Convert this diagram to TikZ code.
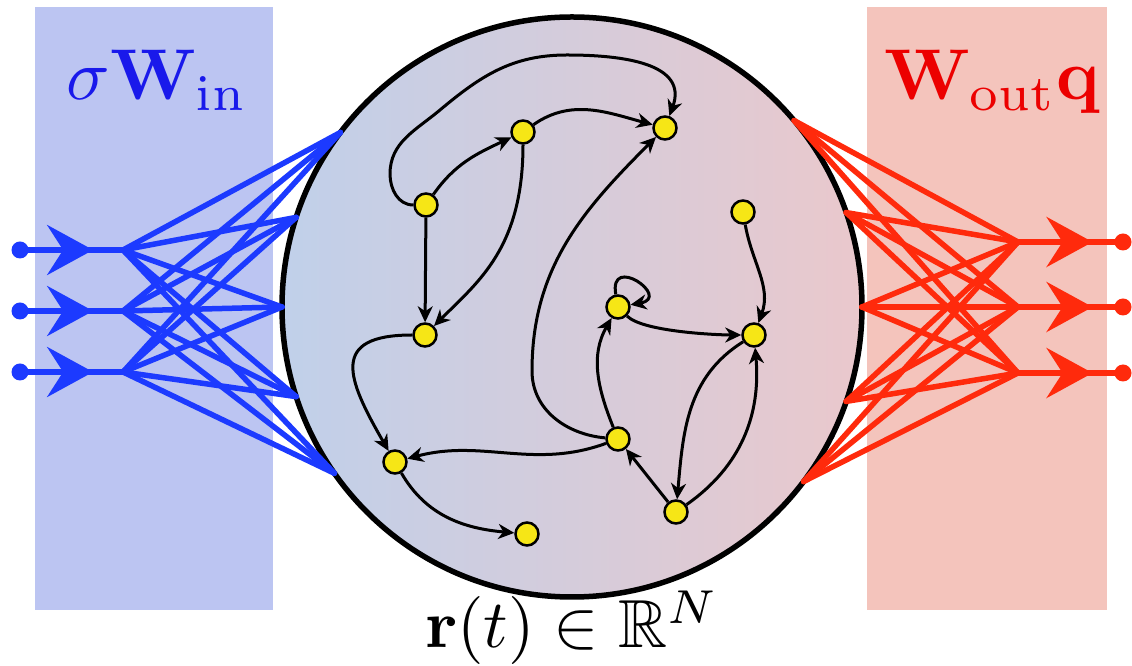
\documentclass[tikz,border=0pt]{standalone}
\usepackage{amssymb}
\usetikzlibrary{arrows.meta,decorations.markings,calc}
\definecolor{rectblue}{RGB}{188,197,242}
\definecolor{rectred}{RGB}{244,196,188}
\definecolor{lineblue}{RGB}{28,58,255}
\definecolor{linered}{RGB}{255,42,12}
\definecolor{textblue}{RGB}{25,25,235}
\definecolor{textred}{RGB}{236,0,0}
\definecolor{nodeyellow}{RGB}{246,230,22}
\definecolor{circleft}{RGB}{192,208,234}
\definecolor{circright}{RGB}{234,200,204}
\begin{document}
\begin{tikzpicture}[x=1pt,y=1pt,
  gnode/.style={circle,fill=nodeyellow,draw=black,line width=2.5pt,minimum size=23pt,inner sep=0pt},
  gedge/.style={line width=3pt,-{Stealth[length=16pt,width=15pt,inset=5pt]}},
  dotb/.style={circle,fill=lineblue,minimum size=17pt,inner sep=0pt},
  dotr/.style={circle,fill=linered,minimum size=17pt,inner sep=0pt},
  inline/.style={line width=5.5pt,color=lineblue,postaction={decorate},
    decoration={markings,mark=at position 0.71 with {\arrow{Stealth[length=46pt,width=50pt,inset=16pt]}}}},
  outline/.style={line width=5.5pt,color=linered,postaction={decorate},
    decoration={markings,mark=at position 0.71 with {\arrow{Stealth[length=46pt,width=50pt,inset=16pt]}}}},
  fanb/.style={line width=5.5pt,color=lineblue},
  fanr/.style={line width=5.5pt,color=linered}]
\useasboundingbox (0,0) rectangle (1132,666);
% side panels
\fill[rectblue] (35,56) rectangle (273,659);
\fill[rectred] (867,56) rectangle (1107,659);
% reservoir
\coordinate (cc) at (572,359);
\shade[left color=circleft,right color=circright] (cc) circle[radius=290];
\draw[line width=5.5pt] (cc) circle[radius=290];
% labels
\node[anchor=base,scale=7.2,text=textblue] (lin) at (157,566) {$\sigma\mathbf{W}_{\mathrm{in}}$};
\node[anchor=base,scale=7.2,text=textred] (lout) at (992,566) {$\mathbf{W}_{\mathrm{out}}\mathbf{q}$};
\node[anchor=base,scale=6.8] (lr) at (572,18) {$\mathbf{r}(t)\in\mathbb{R}^N$};
% circle attachment points
\foreach \a [count=\k] in {143,162,180,198,215} {\coordinate (b\k) at ($(cc)+(\a:290)$);}
\foreach \a [count=\k] in {40,19,0,-19,-37} {\coordinate (r\k) at ($(cc)+(\a:290)$);}
% inputs
\foreach \y [count=\k] in {416,355,294} {
  \node[dotb] (i\k) at (20,\y) {};
  \coordinate (ib\k) at (123,\y);
}
\foreach \k in {1,2,3} {\draw[inline] (i\k.center) -- (ib\k);}
\foreach \k in {1,2,3} {\foreach \j in {1,...,5} {\draw[fanb,line cap=round] (ib\k) -- (b\j);}}
% outputs
\foreach \y [count=\k] in {424,359,293} {
  \node[dotr] (o\k) at (1123,\y) {};
  \coordinate (ob\k) at (1018,\y);
}
\foreach \k in {1,2,3} {\draw[outline] (ob\k) -- (o\k.center);}
\foreach \k in {1,2,3} {\foreach \j in {1,...,5} {\draw[fanr,line cap=round] (r\j) -- (ob\k);}}
% graph nodes
\node[gnode] (A) at (523,534) {};
\node[gnode] (B) at (665,538) {};
\node[gnode] (C) at (426,461) {};
\node[gnode] (D) at (425,331) {};
\node[gnode] (E) at (618,359) {};
\node[gnode] (F) at (743,454) {};
\node[gnode] (G) at (754,331) {};
\node[gnode] (H) at (618,227) {};
\node[gnode] (I) at (676,154) {};
\node[gnode] (J) at (395,204) {};
\node[gnode] (K) at (527,132) {};
\coordinate (w1) at (390,492);
\coordinate (w2) at (440,556);
\coordinate (w3) at (567,611);
\coordinate (w4) at (532,295);
% edges
\draw[gedge] (C) to[out=55,in=205] (A);
\draw[gedge] (C) to[out=180,in=-90] (w1) to[out=90,in=220] (w2) to[out=40,in=180] (w3) to[out=0,in=70,looseness=1.2] (B);
\draw[gedge] (A) to[out=35,in=165] (B);
\draw[gedge] (C) -- (D);
\draw[gedge] (A) to[out=-90,in=45,out looseness=1.3,in looseness=0.8] (D);
\draw[gedge] (D) to[out=180,in=120,looseness=1.8] (J);
\draw[gedge] (H) to[out=200,in=15] (J);
\draw[gedge] (H) to[out=175,in=-90] (w4) to[out=90,in=225] (B);
\draw[gedge] (J) to[out=-60,in=175] (K);
\draw[gedge] (E.100) .. controls +(100:42) and +(10:42) .. (E.10);
\draw[gedge] (E) to[out=-45,in=180,looseness=0.5] (G);
\draw[gedge] (F) to[out=-80,in=70] (G);
\draw[gedge] (H) to[out=112,in=240] (E);
\draw[gedge] (I) -- (H);
\draw[gedge] (G) to[out=212,in=85] (I);
\draw[gedge] (I) to[out=35,in=-85] (G);
\end{tikzpicture}
\end{document}
